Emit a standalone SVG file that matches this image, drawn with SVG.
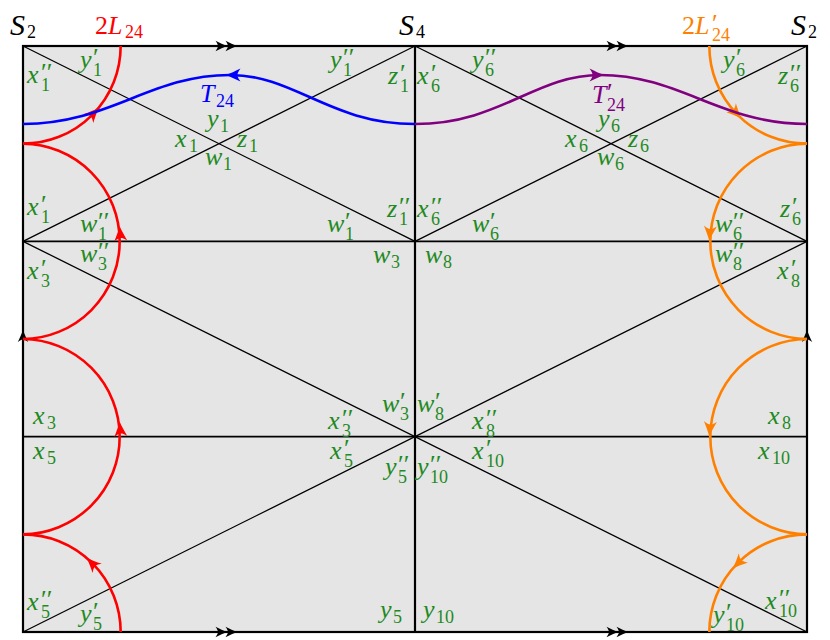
<svg xmlns="http://www.w3.org/2000/svg" xmlns:xlink="http://www.w3.org/1999/xlink" width="830" height="640" viewBox="0 0 830 640">
<style>
.t{font-family:"Liberation Serif",serif;font-style:italic;font-size:26px}
.g{fill:#1f8a1f}
.s{font-style:normal;font-size:18px}
.p{font-style:normal;font-size:26px}
.u{font-style:normal}
.thin{stroke:#000;stroke-width:1.3;fill:none}
.bd{stroke:#000;stroke-width:2.2;fill:none}
.cv{fill:none;stroke-width:2.6}
</style>
<defs>
<path id="ah" d="M7.5,0 C3,-1.5 -2.5,-4 -7.5,-6.5 C-5,-3 -4.5,-1.5 -4.5,0 C-4.5,1.5 -5,3 -7.5,6.5 C-2.5,4 3,1.5 7.5,0Z"/>
</defs>
<rect x="23" y="46" width="784" height="586" fill="#e5e5e5"/>
<g id="lines" class="thin">
<line x1="23" y1="241.33" x2="807" y2="241.33" stroke-width="1.6"/>
<line x1="23" y1="436.67" x2="807" y2="436.67" stroke-width="1.6"/>
<line x1="23" y1="46" x2="415" y2="241.33"/>
<line x1="23" y1="241.33" x2="415" y2="46"/>
<line x1="415" y1="46" x2="807" y2="241.33"/>
<line x1="415" y1="241.33" x2="807" y2="46"/>
<line x1="23" y1="241.33" x2="807" y2="632"/>
<line x1="23" y1="632" x2="807" y2="241.33"/>
</g>
<g id="border" class="bd">
<rect x="23" y="46" width="784" height="586"/>
<line x1="415" y1="46" x2="415" y2="632"/>
</g>
<g id="border-arrows" fill="#000">
<use xlink:href="#ah" transform="translate(221.5,46) scale(0.8)"/>
<use xlink:href="#ah" transform="translate(231.5,46) scale(0.8)"/>
<use xlink:href="#ah" transform="translate(612.5,46) scale(0.8)"/>
<use xlink:href="#ah" transform="translate(622.5,46) scale(0.8)"/>
<use xlink:href="#ah" transform="translate(221.5,632) scale(0.8)"/>
<use xlink:href="#ah" transform="translate(231.5,632) scale(0.8)"/>
<use xlink:href="#ah" transform="translate(612.5,632) scale(0.8)"/>
<use xlink:href="#ah" transform="translate(622.5,632) scale(0.8)"/>
<use xlink:href="#ah" transform="translate(23,336) rotate(-90) scale(0.8)"/>
<use xlink:href="#ah" transform="translate(807,336) rotate(-90) scale(0.8)"/>
</g>
<g id="connectors">
<g id="L24" stroke="#ff0000" class="cv">
<path d="M120.67,46 A97.67,97.67 0 0 1 23,143.67"/>
<path d="M23,143.67 A97.67,97.67 0 0 1 23,339"/>
<path d="M23,339 A97.67,97.67 0 0 1 23,534.33"/>
<path d="M23,534.33 A97.67,97.67 0 0 1 120.67,632"/>
</g>
<g fill="#ff0000">
<use xlink:href="#ah" transform="translate(93.7,113.1) rotate(-46.5)"/>
<use xlink:href="#ah" transform="translate(120.2,233.6) rotate(-94.5)"/>
<use xlink:href="#ah" transform="translate(120.2,429) rotate(-94.5)"/>
<use xlink:href="#ah" transform="translate(91.9,563.1) rotate(-135)"/>
</g>
<g id="L24p" stroke="#ff8000" class="cv">
<path d="M709.33,46 A97.67,97.67 0 0 0 807,143.67"/>
<path d="M807,143.67 A97.67,97.67 0 0 0 807,339"/>
<path d="M807,339 A97.67,97.67 0 0 0 807,534.33"/>
<path d="M807,534.33 A97.67,97.67 0 0 0 709.33,632"/>
</g>
<g fill="#ff8000">
<use xlink:href="#ah" transform="translate(736.3,113.1) rotate(46.5)"/>
<use xlink:href="#ah" transform="translate(709.8,233.4) rotate(94.5)"/>
<use xlink:href="#ah" transform="translate(709.8,429) rotate(94.5)"/>
<use xlink:href="#ah" transform="translate(738.1,563.1) rotate(135)"/>
</g>
<path id="T24" class="cv" stroke="#0000ff" d="M23,124 C110,124 150,75 230,75 C295,75 330,124 415,124"/>
<use xlink:href="#ah" fill="#0000ff" transform="translate(233,75) rotate(180)"/>
<path id="T24p" class="cv" stroke="#800080" d="M415,124 C500,124 535,75 600,75 C680,75 720,124 807,124"/>
<use xlink:href="#ah" fill="#800080" transform="translate(597,75)"/>
</g>
<g id="titles" class="t">
<text x="10" y="35" font-size="30">S<tspan class="s" x="27" y="38">2</tspan></text>
<text x="399" y="35" font-size="30">S<tspan class="s" x="416" y="38">4</tspan></text>
<text x="791" y="35" font-size="30">S<tspan class="s" x="808" y="38">2</tspan></text>
<text x="95" y="34" fill="#ff0000"><tspan class="u">2</tspan>L<tspan class="s" x="125" y="38">24</tspan></text>
<text x="682" y="34" fill="#ff8000"><tspan class="u">2</tspan>L<tspan class="p" x="712" y="32">′</tspan><tspan class="s" x="712" y="41">24</tspan></text>
<text x="200" y="102" fill="#0000ff">T<tspan class="s" x="216" y="107">24</tspan></text>
<text x="592" y="103" fill="#800080">T<tspan class="p" x="607" y="101">′</tspan><tspan class="s" x="607" y="111">24</tspan></text>
</g>
<g id="labels" class="t g">
<text x="27" y="83">x<tspan class="p" x="41" y="81">′′</tspan><tspan class="s" x="41" y="91">1</tspan></text>
<text x="80" y="68">y<tspan class="p" x="93" y="66">′</tspan><tspan class="s" x="93" y="76">1</tspan></text>
<text x="207" y="127">y<tspan class="s" x="220" y="132">1</tspan></text>
<text x="175" y="147">x<tspan class="s" x="189" y="152">1</tspan></text>
<text x="237" y="147">z<tspan class="s" x="249" y="152">1</tspan></text>
<text x="205" y="165">w<tspan class="s" x="223" y="170">1</tspan></text>
<text x="27" y="215">x<tspan class="p" x="41" y="213">′</tspan><tspan class="s" x="41" y="223">1</tspan></text>
<text x="80" y="232">w<tspan class="p" x="98" y="230">′′</tspan><tspan class="s" x="98" y="240">1</tspan></text>
<text x="80" y="262">w<tspan class="p" x="98" y="260">′′</tspan><tspan class="s" x="98" y="270">3</tspan></text>
<text x="27" y="279">x<tspan class="p" x="41" y="277">′</tspan><tspan class="s" x="41" y="287">3</tspan></text>
<text x="330" y="68">y<tspan class="p" x="343" y="66">′′</tspan><tspan class="s" x="343" y="76">1</tspan></text>
<text x="388" y="84">z<tspan class="p" x="400" y="82">′</tspan><tspan class="s" x="400" y="92">1</tspan></text>
<text x="417" y="84">x<tspan class="p" x="431" y="82">′</tspan><tspan class="s" x="431" y="92">6</tspan></text>
<text x="472" y="68">y<tspan class="p" x="485" y="66">′′</tspan><tspan class="s" x="485" y="76">6</tspan></text>
<text x="387" y="217">z<tspan class="p" x="399" y="215">′′</tspan><tspan class="s" x="399" y="225">1</tspan></text>
<text x="417" y="217">x<tspan class="p" x="431" y="215">′′</tspan><tspan class="s" x="431" y="225">6</tspan></text>
<text x="327" y="232">w<tspan class="p" x="345" y="230">′</tspan><tspan class="s" x="345" y="240">1</tspan></text>
<text x="472" y="232">w<tspan class="p" x="490" y="230">′</tspan><tspan class="s" x="490" y="240">6</tspan></text>
<text x="373" y="263">w<tspan class="s" x="391" y="268">3</tspan></text>
<text x="425" y="263">w<tspan class="s" x="443" y="268">8</tspan></text>
<text x="723" y="68">y<tspan class="p" x="736" y="66">′</tspan><tspan class="s" x="736" y="76">6</tspan></text>
<text x="778" y="84">z<tspan class="p" x="790" y="82">′′</tspan><tspan class="s" x="790" y="92">6</tspan></text>
<text x="598" y="127">y<tspan class="s" x="611" y="132">6</tspan></text>
<text x="565" y="147">x<tspan class="s" x="579" y="152">6</tspan></text>
<text x="628" y="147">z<tspan class="s" x="640" y="152">6</tspan></text>
<text x="597" y="165">w<tspan class="s" x="615" y="170">6</tspan></text>
<text x="780" y="217">z<tspan class="p" x="792" y="215">′</tspan><tspan class="s" x="792" y="225">6</tspan></text>
<text x="715" y="232">w<tspan class="p" x="733" y="230">′′</tspan><tspan class="s" x="733" y="240">6</tspan></text>
<text x="715" y="262">w<tspan class="p" x="733" y="260">′′</tspan><tspan class="s" x="733" y="270">8</tspan></text>
<text x="777" y="279">x<tspan class="p" x="791" y="277">′</tspan><tspan class="s" x="791" y="287">8</tspan></text>
<text x="33" y="424">x<tspan class="s" x="47" y="429">3</tspan></text>
<text x="33" y="459">x<tspan class="s" x="47" y="464">5</tspan></text>
<text x="27" y="610">x<tspan class="p" x="41" y="608">′′</tspan><tspan class="s" x="41" y="618">5</tspan></text>
<text x="80" y="622">y<tspan class="p" x="93" y="620">′</tspan><tspan class="s" x="93" y="630">5</tspan></text>
<text x="382" y="412">w<tspan class="p" x="400" y="410">′</tspan><tspan class="s" x="400" y="420">3</tspan></text>
<text x="417" y="412">w<tspan class="p" x="435" y="410">′</tspan><tspan class="s" x="435" y="420">8</tspan></text>
<text x="328" y="429">x<tspan class="p" x="342" y="427">′′</tspan><tspan class="s" x="342" y="437">3</tspan></text>
<text x="472" y="429">x<tspan class="p" x="486" y="427">′′</tspan><tspan class="s" x="486" y="437">8</tspan></text>
<text x="330" y="459">x<tspan class="p" x="344" y="457">′</tspan><tspan class="s" x="344" y="467">5</tspan></text>
<text x="472" y="459">x<tspan class="p" x="486" y="457">′</tspan><tspan class="s" x="486" y="467">10</tspan></text>
<text x="385" y="475">y<tspan class="p" x="398" y="473">′′</tspan><tspan class="s" x="398" y="483">5</tspan></text>
<text x="417" y="475">y<tspan class="p" x="430" y="473">′′</tspan><tspan class="s" x="430" y="483">10</tspan></text>
<text x="380" y="618">y<tspan class="s" x="393" y="623">5</tspan></text>
<text x="423" y="618">y<tspan class="s" x="436" y="623">10</tspan></text>
<text x="768" y="424">x<tspan class="s" x="782" y="429">8</tspan></text>
<text x="758" y="459">x<tspan class="s" x="772" y="464">10</tspan></text>
<text x="765" y="609">x<tspan class="p" x="779" y="607">′′</tspan><tspan class="s" x="779" y="617">10</tspan></text>
<text x="713" y="623">y<tspan class="p" x="726" y="621">′</tspan><tspan class="s" x="726" y="631">10</tspan></text>
</g>
</svg>
